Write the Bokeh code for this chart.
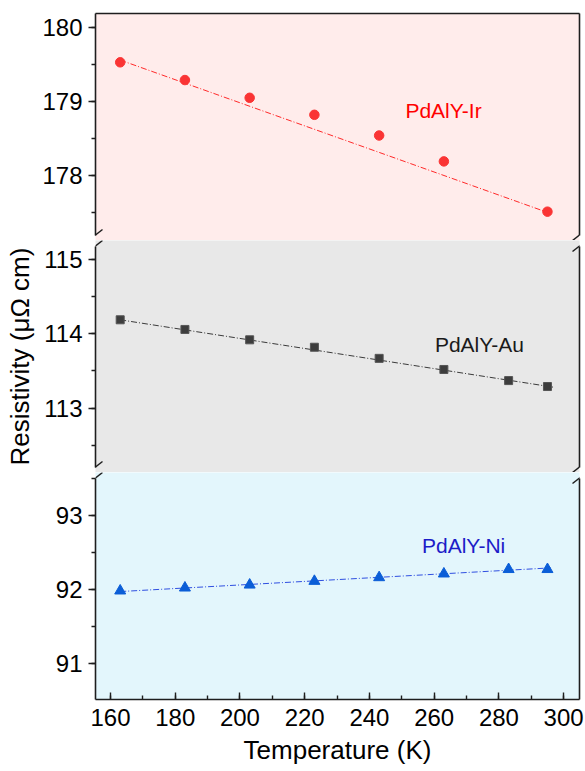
from bokeh.plotting import figure
from bokeh.layouts import column
from bokeh.models import Range1d, LinearAxis, SingleIntervalTicker, FixedTicker, Arrow, Label
from bokeh.embed import file_html
from bokeh.resources import INLINE

# ---------------- data ----------------
temperature = [163, 183, 203, 223, 243, 263, 283, 295]
ir_temperature = [163, 183, 203, 223, 243, 263, 295]
rho_ir = [179.53, 179.29, 179.05, 178.82, 178.54, 178.19, 177.51]
rho_au = [114.19, 114.06, 113.92, 113.82, 113.67, 113.52, 113.37, 113.29]
rho_ni = [91.98, 92.02, 92.06, 92.11, 92.16, 92.21, 92.27, 92.27]

fit_ir_x = [163, 295]
fit_ir = [179.56, 177.50]
fit_au_x = [163, 297]
fit_au = [114.19, 113.28]
fit_ni_x = [163, 296]
fit_ni = [91.97, 92.29]

series_names = ["PdAlY-Ir", "PdAlY-Au", "PdAlY-Ni"]
x_label = "Temperature (K)"
y_label = "Resistivity (\u03bc\u03a9 cm)"

# ---------------- layout / style ----------------
FONT = "Liberation Sans"
W = 585
BL, BR = 95, 6
FRAME_W = W - BL - BR
x_rng = (155.37, 304.9)
AXC = "#1e1e1e"

panels = [
    dict(yr=(177.12, 180.19), h=240, top=13, bottom=0, bg="#ffeceb"),
    dict(yr=(112.13, 115.26), h=232, top=0, bottom=0, bg="#e8e8e8"),
    dict(yr=(90.51, 93.58), h=298, top=0, bottom=71, bg="#e3f6fc"),
]

xr = Range1d(*x_rng)
figs = []
for i, pn in enumerate(panels):
    fh = pn["h"] - pn["top"] - pn["bottom"]
    ypx = fh / (pn["yr"][1] - pn["yr"][0])
    xpx = FRAME_W / (x_rng[1] - x_rng[0])
    p = figure(width=W, height=pn["h"], x_range=xr, y_range=Range1d(*pn["yr"]),
               output_backend="svg", toolbar_location=None,
               x_axis_location=None, y_axis_location=None,
               min_border_left=BL, min_border_right=BR,
               min_border_top=pn["top"], min_border_bottom=pn["bottom"])
    p.outline_line_color = None
    p.grid.grid_line_color = None
    p.background_fill_color = pn["bg"]
    p.border_fill_color = "white"

    gap = 5.5 / ypx
    lo = pn["yr"][0] + (gap if i < 2 else 0)
    hi = pn["yr"][1] - (gap if i > 0 else 0)

    ly = LinearAxis(ticker=SingleIntervalTicker(interval=1, num_minor_ticks=2),
                    bounds=(lo, hi),
                    axis_line_color=AXC, axis_line_width=1.6,
                    major_tick_line_color=AXC, major_tick_line_width=1.4,
                    minor_tick_line_color=AXC, minor_tick_line_width=1.4,
                    major_tick_out=7, major_tick_in=0, minor_tick_out=4, minor_tick_in=0,
                    major_label_standoff=6,
                    major_label_text_font=FONT, major_label_text_font_size="24px",
                    major_label_text_color="black")
    if i == 1:
        ly.axis_label = y_label
        ly.axis_label_text_font = FONT
        ly.axis_label_text_font_size = "26px"
        ly.axis_label_text_font_style = "normal"
        ly.axis_label_text_color = "black"
        ly.axis_label_standoff = 6
    p.add_layout(ly, "left")

    ry = LinearAxis(ticker=FixedTicker(ticks=[]), bounds=(lo, hi),
                    axis_line_color=AXC, axis_line_width=1.6,
                    major_tick_out=0, major_tick_in=0, minor_tick_out=0, minor_tick_in=0,
                    major_label_standoff=0)
    p.add_layout(ry, "right")

    if i == 0:
        tx = LinearAxis(ticker=FixedTicker(ticks=[]), axis_line_color=AXC, axis_line_width=1.6,
                        major_tick_out=0, major_tick_in=0, minor_tick_out=0, minor_tick_in=0,
                        major_label_standoff=0)
        p.add_layout(tx, "above")
    if i == 2:
        bx = LinearAxis(ticker=SingleIntervalTicker(interval=20, num_minor_ticks=2),
                        axis_line_color=AXC, axis_line_width=1.6,
                        major_tick_line_color=AXC, major_tick_line_width=1.4,
                        minor_tick_line_color=AXC, minor_tick_line_width=1.4,
                        major_tick_out=0, major_tick_in=7, minor_tick_out=0, minor_tick_in=4,
                        major_label_standoff=9,
                        major_label_text_font=FONT, major_label_text_font_size="24px",
                        major_label_text_color="black",
                        axis_label=x_label, axis_label_standoff=6,
                        axis_label_text_font=FONT, axis_label_text_font_size="26px",
                        axis_label_text_font_style="normal", axis_label_text_color="black")
        p.add_layout(bx, "below")

    # break marks
    dx = 7 / xpx
    dy = 5.5 / ypx
    for xe in x_rng:
        if i < 2:
            yc = pn["yr"][0] + dy
            p.add_layout(Arrow(end=None, x_start=xe - dx, y_start=yc - dy, x_end=xe + dx, y_end=yc + dy,
                               line_color=AXC, line_width=1.5))
        if i > 0:
            yc = pn["yr"][1] - dy
            p.add_layout(Arrow(end=None, x_start=xe - dx, y_start=yc - dy, x_end=xe + dx, y_end=yc + dy,
                               line_color=AXC, line_width=1.5))
    figs.append(p)

p1, p2, p3 = figs

# Ir
p1.line(fit_ir_x, fit_ir, line_color="#ff2a2a", line_width=1, line_dash="6 2 1 2")
p1.scatter(ir_temperature, rho_ir, marker="circle", size=9.5, fill_color="#fa3434", line_color="#fa3434")
p1.add_layout(Label(x=262.9, y=178.88, text=series_names[0], text_align="center", text_baseline="middle",
                    text_font=FONT, text_font_size="21px", text_color="#ff0000"))

# Au
p2.line(fit_au_x, fit_au, line_color="#3a3a3a", line_width=1, line_dash="6 2 1 2")
p2.scatter(temperature, rho_au, marker="square", size=8, fill_color="#3d3d3d", line_color="#555555")
p2.add_layout(Label(x=274.0, y=113.86, text=series_names[1], text_align="center", text_baseline="middle",
                    text_font=FONT, text_font_size="21px", text_color="#1a1a1a"))

# Ni
p3.line(fit_ni_x, fit_ni, line_color="#2f4fe0", line_width=1, line_dash="6 2 1 2")
p3.scatter(temperature, rho_ni, marker="triangle", size=11, fill_color="#0b5ed7", line_color="#0b5ed7")
p3.add_layout(Label(x=269.1, y=92.59, text=series_names[2], text_align="center", text_baseline="middle",
                    text_font=FONT, text_font_size="21px", text_color="#1c1cc8"))

layout = column(p1, p2, p3, spacing=0)
open("out.html", "w").write(file_html(layout, INLINE))
